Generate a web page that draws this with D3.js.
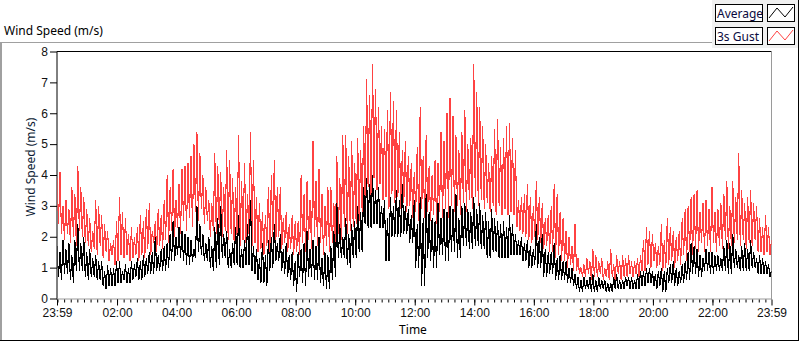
<!DOCTYPE html>
<html>
<head>
<meta charset="utf-8">
<script src="https://cdn.jsdelivr.net/npm/d3@7"></script>
<style>
  body { margin: 0; background: #fff; }
  svg { display: block; font-family: "Noto Sans", "Open Sans", sans-serif; }
</style>
</head>
<body>
<div id="chart"></div>
<script>
// readings per 6-minute slot, starting at 23:59 of previous day (minute -1):
// the high of each slot, then the low 3 minutes later
var slotStart = -1, slotStep = 6;

var gustHigh = [3.9,4.1,3.0,3.2,2.9,3.6,3.4,4.3,3.6,3.3, 2.9,2.6,2.2,3.2,3.0,2.7,2.4,2.2,1.8,1.9,
  2.5,3.3,2.8,2.6,2.1,2.3,2.0,2.3,2.7,2.5, 2.9,3.1,2.2,2.5,2.9,2.7,3.2,4.0,3.6,4.2,
  3.2,3.7,4.2,4.3,4.4,4.6,5.0,5.4,4.7,4.0, 3.6,3.2,3.1,4.7,4.3,4.1,3.6,4.8,4.5,3.9,
  3.6,5.3,3.8,4.4,3.4,5.4,4.5,3.3,3.1,2.8, 2.7,3.6,4.0,4.5,3.6,3.6,2.6,2.8,2.4,2.7,
  2.5,2.5,4.0,3.4,3.8,3.2,5.1,3.8,4.2,3.4, 3.0,3.6,3.6,3.1,4.6,3.9,5.3,5.3,4.6,5.1,
  4.4,5.2,4.8,5.6,7.1,6.6,7.6,6.8,6.2,5.6, 5.5,6.1,6.7,6.4,6.1,5.4,4.8,5.1,4.6,4.4,
  4.1,4.9,6.2,4.6,5.3,4.3,4.0,4.5,4.4,5.4, 5.1,6.0,6.5,5.9,5.3,4.8,5.4,6.1,5.0,5.2,
  7.6,6.7,6.2,5.6,5.0,4.4,4.6,5.5,5.8,4.9, 5.2,5.6,5.7,5.2,4.8,3.2,3.3,3.4,3.7,3.3,
  3.0,3.8,3.3,3.1,2.6,2.7,3.0,3.7,3.4,2.8, 2.6,2.2,2.0,1.7,2.4,1.3,1.0,1.1,1.3,1.2,
  1.6,1.4,1.2,1.3,1.0,1.2,1.6,1.1,1.4,1.2, 1.4,1.3,1.4,1.2,1.2,1.3,1.4,1.9,2.3,2.2,
  2.1,1.8,1.7,2.4,1.9,2.6,2.3,2.2,2.0,2.2, 2.6,2.9,3.0,3.3,3.4,3.5,2.8,3.1,3.2,2.9,
  3.6,2.8,2.9,3.1,3.4,3.8,3.0,3.8,3.3,4.7, 3.5,3.1,3.3,3.5,3.1,3.0,2.6,2.3,2.7,2.3,
  1.9];

var gustLow = [2.4,2.1,1.9,2.1,1.8,2.0,1.7,2.2,2.0,1.8, 1.7,1.5,1.6,1.4,1.7,1.3,1.5,1.2,1.4,1.1,
  1.2,1.4,1.3,1.4,1.2,1.3,1.4,1.2,1.4,1.3, 1.6,1.4,1.8,1.5,1.7,1.6,1.9,1.8,2.2,2.0,
  2.3,2.1,2.5,2.2,2.6,2.3,2.8,2.5,2.9,2.4, 2.5,2.0,2.2,2.1,2.3,2.0,2.2,1.9,2.1,1.8,
  2.0,1.7,1.9,1.8,2.1,1.7,1.8,1.5,1.6,1.4, 1.7,1.5,2.0,1.8,2.0,1.6,1.8,1.5,1.6,1.4,
  1.5,1.4,1.8,1.5,1.9,1.6,2.0,1.7,1.8,1.4, 1.7,1.5,1.8,1.6,2.1,1.9,2.3,2.1,2.2,2.3,
  2.4,2.5,2.8,3.0,3.6,3.3,3.9,3.5,3.7,3.2, 3.3,2.9,3.4,3.1,3.3,2.9,3.1,2.8,3.0,2.6,
  2.8,2.5,2.9,2.6,2.8,2.5,2.7,2.4,2.8,2.6, 2.9,2.6,3.0,2.8,3.0,2.7,3.1,2.8,3.2,2.9,
  3.3,3.0,3.2,2.9,3.1,2.8,3.0,2.7,3.0,2.7, 2.9,2.7,2.8,2.7,2.3,2.2,2.1,2.0,1.9,1.8,
  2.0,1.9,1.8,1.6,1.7,1.5,1.5,1.3,1.4,1.2, 1.2,1.0,1.1,0.9,0.9,0.8,0.7,0.7,0.8,0.6,
  0.7,0.7,0.8,0.6,0.7,0.6,0.7,0.6,0.8,0.6, 0.7,0.7,0.8,0.7,0.8,0.7,0.9,0.9,1.1,1.0,
  1.2,1.0,1.1,0.9,1.0,1.1,1.2,1.0,1.2,1.1, 1.4,1.2,1.5,1.4,1.6,1.5,1.8,1.5,1.7,1.5,
  1.8,1.5,1.7,1.6,1.9,1.6,1.7,1.8,1.9,1.7, 1.9,1.6,1.8,1.7,1.9,1.5,1.5,1.4,1.5,1.4];

var averageHigh = [1.7,1.5,1.9,1.6,1.8,1.4,1.9,2.4,1.8,2.0, 1.5,1.6,1.3,1.4,1.2,1.2,0.9,1.1,1.0,1.0,
  1.2,1.2,0.9,1.1,1.0,1.2,1.1,1.3,1.2,1.4, 1.3,1.5,1.5,2.0,1.4,1.6,1.7,1.8,2.1,2.5,
  2.0,2.3,2.2,2.1,2.0,1.9,1.6,3.0,2.4,2.1, 1.8,2.0,1.7,2.3,2.6,3.0,2.1,2.2,1.6,1.8,
  2.3,2.7,1.6,1.9,2.4,3.2,1.7,1.6,1.3,1.8, 1.4,1.9,2.0,2.4,1.8,2.1,1.6,1.8,1.4,1.5,
  1.2,1.5,1.6,1.8,2.2,1.6,1.9,1.7,2.0,1.3, 1.5,1.4,1.7,2.2,3.1,2.4,2.0,2.6,2.1,2.4,
  2.5,3.0,2.8,3.6,3.9,3.7,4.0,3.5,3.6,3.0, 3.2,2.6,3.3,3.0,3.5,3.2,3.7,3.0,2.9,2.7,
  3.2,2.4,3.3,2.6,3.4,2.8,2.6,2.5,3.1,2.6, 2.9,2.8,3.0,2.9,3.4,2.6,3.0,3.1,2.9,2.8,
  3.3,2.9,3.1,2.7,2.8,2.5,2.9,2.6,2.5,2.4, 2.5,2.3,2.7,2.4,2.1,1.9,2.0,1.8,1.9,1.7,
  1.6,2.4,2.0,2.1,1.6,1.5,1.5,1.8,1.3,1.4, 1.2,1.2,1.0,1.0,0.8,0.7,0.6,0.7,0.6,0.7,
  0.8,0.6,0.7,0.6,0.6,0.5,0.5,0.7,0.8,0.6, 0.6,0.7,0.7,0.7,0.6,0.8,0.9,0.9,1.0,1.0,
  0.9,0.8,0.9,1.0,0.9,1.0,1.1,1.2,1.0,0.9, 1.1,1.2,1.5,1.8,1.7,1.6,1.4,1.3,1.6,1.5,
  1.5,1.4,1.4,1.3,1.7,1.9,1.8,2.1,1.6,1.4, 1.7,1.8,1.6,1.9,1.5,1.3,1.4,1.3,1.2,1.1,
  0.9];

var averageLow = [0.7,0.6,0.8,0.8,0.6,0.5,0.9,0.9,0.9,0.7, 0.6,0.7,0.7,0.6,0.6,0.4,0.3,0.4,0.4,0.4,
  0.5,0.5,0.6,0.5,0.5,0.6,0.7,0.6,0.6,0.7, 0.8,0.8,0.8,0.9,0.9,0.9,0.9,1.0,1.2,1.2,
  1.4,1.3,1.2,1.1,1.1,1.2,1.3,1.5,1.4,1.2, 1.2,1.0,0.9,1.0,1.1,1.3,1.3,1.0,1.0,1.1,
  1.1,1.0,1.0,1.1,1.1,0.9,0.8,0.6,0.5,0.5, 0.4,0.9,1.0,1.2,1.2,0.9,0.8,0.7,0.6,0.4,
  0.2,0.7,0.5,0.4,0.7,0.7,0.6,0.6,0.5,0.4, 0.3,0.3,0.6,0.7,1.3,1.3,1.3,1.1,1.0,1.3,
  1.3,1.5,1.5,2.4,2.3,2.3,2.4,2.4,2.3,2.3, 1.2,1.2,2.0,2.0,2.0,2.0,2.1,2.1,1.8,1.8,
  1.0,1.0,0.4,0.4,1.3,1.2,1.0,1.0,1.4,1.4, 1.2,1.2,1.5,1.5,1.3,1.3,1.7,1.7,1.6,1.6,
  1.7,1.7,1.6,1.6,1.3,1.3,1.5,1.5,1.3,1.3, 1.3,1.3,1.4,1.4,1.4,1.4,1.2,1.2,1.0,1.0,
  1.1,1.0,1.0,0.7,0.7,0.8,0.8,0.6,0.6,0.6, 0.6,0.5,0.5,0.4,0.3,0.2,0.2,0.3,0.3,0.2,
  0.2,0.2,0.3,0.3,0.2,0.2,0.2,0.3,0.3,0.3, 0.3,0.4,0.3,0.3,0.3,0.3,0.4,0.4,0.5,0.5,
  0.4,0.3,0.4,0.2,0.2,0.5,0.5,0.4,0.4,0.5, 0.5,0.6,0.6,0.8,0.8,0.7,0.7,0.9,0.9,0.8,
  0.8,0.9,0.9,0.9,0.9,0.8,0.8,1.0,1.0,0.9, 0.9,0.9,0.9,1.0,1.0,0.8,0.8,0.8,0.8,0.7];

var yTicks = [0,1,2,3,4,5,6,7,8];
var xMajor = [-1,120,240,360,480,600,720,840,960,1080,1200,1320,1439];
var xLabels = ["23:59","02:00","04:00","06:00","08:00","10:00","12:00","14:00","16:00","18:00","20:00","22:00","23:59"];
var legendNames = ["Average","3s Gust"];
var legendColors = ["#000000","#ff4242"];

// high then low of each slot, in time order
function toSeries(high, low) {
  var s = [];
  high.forEach(function(v, i) {
    s.push({t: slotStart + i * slotStep, v: v});
    if (i < low.length) s.push({t: slotStart + i * slotStep + slotStep / 2, v: low[i]});
  });
  return s;
}
var gust = toSeries(gustHigh, gustLow);
var average = toSeries(averageHigh, averageLow);

var W = 800, H = 342;
var plot = {left: 57, right: 771.5, top: 51.5, bottom: 298.5};

var svg = d3.select("#chart").append("svg")
  .attr("width", W).attr("height", H);

svg.append("rect").attr("width", W).attr("height", H).attr("fill", "#fff");

// outer panel frame
svg.append("line").attr("x1", 0).attr("x2", 712).attr("y1", 42.5).attr("y2", 42.5)
  .attr("stroke", "#a0a0a0");
svg.append("line").attr("x1", 1).attr("x2", 1).attr("y1", 42).attr("y2", 341)
  .attr("stroke", "#a0a0a0").attr("stroke-width", 2);
svg.append("line").attr("x1", 0).attr("x2", 799).attr("y1", 340.5).attr("y2", 340.5)
  .attr("stroke", "#000");
svg.append("line").attr("x1", 798.5).attr("x2", 798.5).attr("y1", 0).attr("y2", 341)
  .attr("stroke", "#000");

svg.append("text")
  .attr("x", 4).attr("y", 35)
  .style("font-size", "12px")
  .text("Wind Speed (m/s)");

// scales
var x = d3.scaleLinear().domain([-1, 1439]).range([plot.left, plot.right]);
var y = d3.scaleLinear().domain([0, 8]).range([plot.bottom, plot.top]);

// plot frame
svg.append("line").attr("x1", plot.left).attr("x2", plot.right).attr("y1", plot.top).attr("y2", plot.top)
  .attr("stroke", "#000");
svg.append("line").attr("x1", plot.left).attr("x2", plot.left).attr("y1", plot.top).attr("y2", plot.bottom + 1)
  .attr("stroke", "#000");
svg.append("line").attr("x1", plot.right).attr("x2", plot.right).attr("y1", plot.top).attr("y2", plot.bottom + 1)
  .attr("stroke", "#9a9a9a");
svg.append("line").attr("x1", plot.left).attr("x2", plot.right).attr("y1", plot.bottom + 0.5).attr("y2", plot.bottom + 0.5)
  .attr("stroke", "#9a9a9a");

svg.append("clipPath").attr("id", "clip")
  .append("rect")
  .attr("x", plot.left + 0.5).attr("y", plot.top)
  .attr("width", plot.right - plot.left - 0.5).attr("height", plot.bottom - plot.top);

var line = d3.line()
  .x(function(d) { return x(d.t); })
  .y(function(d) { return y(d.v); });

var g = svg.append("g").attr("clip-path", "url(#clip)");
g.append("path").datum(gust)
  .attr("d", line).attr("fill", "none")
  .attr("stroke", legendColors[1]).attr("stroke-width", 1.1)
  .style("shape-rendering", "crispEdges");
g.append("path").datum(average)
  .attr("d", line).attr("fill", "none")
  .attr("stroke", legendColors[0]).attr("stroke-width", 1.1)
  .style("shape-rendering", "crispEdges");

// y axis
var yAxis = svg.append("g")
  .attr("transform", "translate(" + plot.left + ",0)")
  .style("font-size", "12px")
  .call(d3.axisLeft(y).tickValues(yTicks).tickSize(7).tickPadding(2).tickFormat(d3.format("d")));
yAxis.select(".domain").remove();
yAxis.selectAll("text").attr("fill", "#111");

svg.append("text")
  .attr("transform", "translate(35,167) rotate(-90)")
  .attr("text-anchor", "middle")
  .style("font-size", "12px")
  .attr("fill", "#0c1a33")
  .text("Wind Speed (m/s)");

// x axis: minor ticks then labelled majors
var minor = d3.range(0, 1439, 120 / 9);
var xMinor = svg.append("g")
  .attr("transform", "translate(0," + (plot.bottom + 1) + ")")
  .call(d3.axisBottom(x).tickValues(minor).tickSize(3).tickFormat(""));
xMinor.select(".domain").remove();

var xAxis = svg.append("g")
  .attr("transform", "translate(0," + (plot.bottom + 1) + ")")
  .style("font-size", "12px")
  .call(d3.axisBottom(x).tickValues(xMajor).tickSize(6).tickPadding(3)
    .tickFormat(function(d, i) { return xLabels[i]; }));
xAxis.select(".domain").remove();
xAxis.selectAll("text").attr("fill", "#111");

svg.append("text")
  .attr("x", 413).attr("y", 334)
  .attr("text-anchor", "middle")
  .style("font-size", "12px")
  .text("Time");

// legend
svg.append("rect").attr("x", 712).attr("y", 0).attr("width", 86).attr("height", 48)
  .attr("fill", "#f0f0f0");
var leg = svg.selectAll(".leg").data(legendNames).enter().append("g")
  .attr("class", "leg")
  .attr("transform", function(d, i) { return "translate(0," + (i * 23) + ")"; });
leg.append("rect").attr("x", 715.5).attr("y", 4.5).attr("width", 47).attr("height", 17)
  .attr("fill", "#fff").attr("stroke", "#000");
leg.append("text").attr("x", 717).attr("y", 18)
  .style("font-size", "12px").attr("fill", "#0a0a40")
  .text(function(d) { return d; });
leg.append("rect").attr("x", 767.5).attr("y", 4.5).attr("width", 27).attr("height", 17)
  .attr("fill", "#fff").attr("stroke", "#000");
leg.append("path")
  .attr("d", "M769,18L777,8L785,17L793,7")
  .attr("fill", "none").attr("stroke-width", 1)
  .attr("stroke", function(d, i) { return legendColors[i]; });
</script>
</body>
</html>
